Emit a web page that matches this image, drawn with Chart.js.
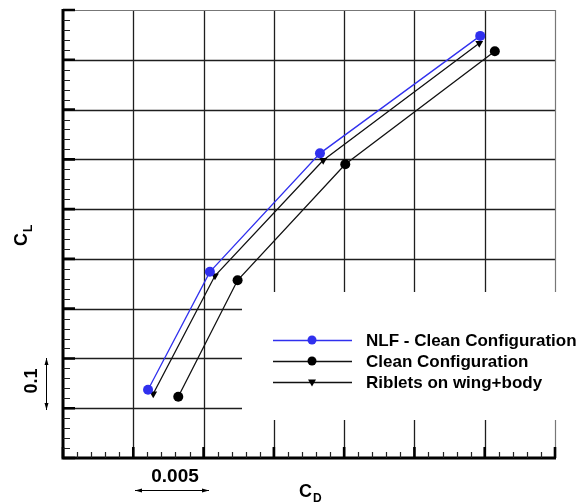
<!DOCTYPE html>
<html>
<head>
<meta charset="utf-8">
<script src="https://cdn.jsdelivr.net/npm/chart.js@4.4.1/dist/chart.umd.min.js"></script>
<style>
  html, body { margin: 0; padding: 0; background: #fff; }
  #wrap { width: 582px; height: 504px; }
</style>
</head>
<body>
<div id="wrap"><canvas id="c" width="582" height="504"></canvas></div>
<script>
// ---- data ----
const seriesNames = ["NLF - Clean Configuration", "Clean Configuration", "Riblets on wing+body"];
const nlfCD = [0.01605, 0.02045, 0.02828, 0.03968];
const nlfCL = [0.137, 0.374, 0.612, 0.848];
const cleanCD = [0.01820, 0.02242, 0.03008, 0.04072];
const cleanCL = [0.123, 0.357, 0.590, 0.817];
const ribCD = [0.01642, 0.02081, 0.02851, 0.03961];
const ribCL = [0.129, 0.366, 0.598, 0.833];
// axis ranges / steps (no tick labels in the reference)
const xMin = 0.010, xMax = 0.045, xStep = 0.005, xMinor = 0.001;
const yMin = 0.0, yMax = 0.9, yStep = 0.1, yMinor = 0.02;
const xScaleLabel = "0.005";
const yScaleLabel = "0.1";

const pts = (xs, ys) => xs.map((x, i) => ({ x: x, y: ys[i] }));
const BLUE = '#3030ee';
const FONT = '"Liberation Sans", Arial, Helvetica, sans-serif';

const overlay = {
  id: 'overlay',
  beforeDatasetsDraw(chart) {
    const ctx = chart.ctx, xs = chart.scales.x, ys = chart.scales.y, a = chart.chartArea;
    ctx.save();
    ctx.strokeStyle = '#1e1e1e';
    ctx.lineWidth = 1.3;
    ctx.beginPath();
    for (let v = xMin + xStep; v < xMax - 1e-9; v += xStep) {
      const p = Math.round(xs.getPixelForValue(v)) + 0.5;
      ctx.moveTo(p, a.top); ctx.lineTo(p, a.bottom);
    }
    for (let v = yMin + yStep; v < yMax - 1e-9; v += yStep) {
      const p = Math.round(ys.getPixelForValue(v)) + 0.5;
      ctx.moveTo(a.left, p); ctx.lineTo(a.right, p);
    }
    ctx.stroke();
    // blank box behind the legend
    ctx.fillStyle = '#fff';
    ctx.fillRect(242, 292, a.right - 242 + 3, 420 - 292);
    ctx.restore();
  },
  afterDatasetsDraw(chart) {
    const ctx = chart.ctx, xs = chart.scales.x, ys = chart.scales.y, a = chart.chartArea;
    ctx.save();
    // thin top/right frame
    ctx.strokeStyle = '#777';
    ctx.lineWidth = 1.2;
    ctx.beginPath();
    ctx.moveTo(a.left, a.top + 0.5); ctx.lineTo(a.right + 0.5, a.top + 0.5);
    ctx.lineTo(a.right + 0.5, 292);
    ctx.moveTo(a.right + 0.5, 420); ctx.lineTo(a.right + 0.5, a.bottom);
    ctx.stroke();
    // thick left & bottom axes
    ctx.strokeStyle = '#000';
    ctx.lineWidth = 3;
    ctx.beginPath();
    ctx.moveTo(a.left, a.top - 1); ctx.lineTo(a.left, a.bottom + 1.5);
    ctx.moveTo(a.left - 1.5, a.bottom); ctx.lineTo(a.right + 1, a.bottom);
    ctx.stroke();
    // major ticks
    ctx.lineWidth = 2.6;
    ctx.beginPath();
    for (let v = yMin; v <= yMax + 1e-9; v += yStep) {
      const p = ys.getPixelForValue(v);
      ctx.moveTo(a.left, p); ctx.lineTo(a.left + 12, p);
    }
    for (let v = xMin; v <= xMax + 1e-9; v += xStep) {
      const p = xs.getPixelForValue(v);
      ctx.moveTo(p, a.bottom); ctx.lineTo(p, a.bottom - 11);
    }
    ctx.stroke();
    // minor ticks
    ctx.lineWidth = 1.2;
    ctx.strokeStyle = '#222';
    ctx.beginPath();
    const ny = Math.round((yMax - yMin) / yMinor);
    for (let i = 0; i <= ny; i++) {
      if (i % Math.round(yStep / yMinor) === 0) continue;
      const p = Math.round(ys.getPixelForValue(yMin + i * yMinor)) + 0.5;
      ctx.moveTo(a.left, p); ctx.lineTo(a.left + 7, p);
    }
    const nx = Math.round((xMax - xMin) / xMinor);
    for (let i = 0; i <= nx; i++) {
      if (i % Math.round(xStep / xMinor) === 0) continue;
      const p = Math.round(xs.getPixelForValue(xMin + i * xMinor)) + 0.5;
      ctx.moveTo(p, a.bottom); ctx.lineTo(p, a.bottom - 6);
    }
    ctx.stroke();
    ctx.restore();
  },
  afterDraw(chart) {
    const ctx = chart.ctx;
    ctx.save();
    // legend
    const rows = [340, 361, 382];
    const ds = chart.data.datasets;
    rows.forEach((ry, i) => {
      const d = ds[i];
      ctx.strokeStyle = d.borderColor;
      ctx.lineWidth = 1.3;
      ctx.beginPath(); ctx.moveTo(273, ry + 0.5); ctx.lineTo(352, ry + 0.5); ctx.stroke();
      ctx.fillStyle = d.pointBackgroundColor;
      ctx.beginPath();
      if (d.pointStyle === 'triangle') {
        ctx.moveTo(312 - 4, ry - 2.5); ctx.lineTo(312 + 4, ry - 2.5); ctx.lineTo(312, ry + 4.5);
        ctx.closePath();
      } else {
        ctx.arc(312, ry, 4.5, 0, Math.PI * 2);
      }
      ctx.fill();
      ctx.fillStyle = '#000';
      ctx.font = 'bold 17px ' + FONT;
      ctx.textBaseline = 'middle';
      ctx.textAlign = 'left';
      ctx.fillText(d.label, 366, ry + 1);
    });
    // axis titles
    ctx.fillStyle = '#000';
    ctx.font = 'bold 18px ' + FONT;
    ctx.textBaseline = 'alphabetic';
    // C_D
    ctx.textAlign = 'left';
    ctx.fillText('C', 299, 497);
    ctx.font = 'bold 12px ' + FONT;
    ctx.fillText('D', 313, 502);
    // scale label 0.005 + arrow
    ctx.font = 'bold 19px ' + FONT;
    ctx.textAlign = 'center';
    ctx.fillText(xScaleLabel, 175, 482);
    const arrowH = (x1, x2, y) => {
      ctx.strokeStyle = '#000'; ctx.lineWidth = 1;
      ctx.beginPath(); ctx.moveTo(x1, y); ctx.lineTo(x2, y); ctx.stroke();
      ctx.beginPath();
      ctx.moveTo(x1, y); ctx.lineTo(x1 + 7, y - 2); ctx.lineTo(x1 + 7, y + 2); ctx.closePath();
      ctx.moveTo(x2, y); ctx.lineTo(x2 - 7, y - 2); ctx.lineTo(x2 - 7, y + 2); ctx.closePath();
      ctx.fill();
    };
    arrowH(135, 209, 490.5);
    // rotated labels
    ctx.save();
    ctx.translate(21, 239);
    ctx.rotate(-Math.PI / 2);
    ctx.textAlign = 'left';
    ctx.font = 'bold 18px ' + FONT;
    ctx.fillText('C', -7, 6);
    ctx.font = 'bold 12px ' + FONT;
    ctx.fillText('L', 7, 11);
    ctx.restore();
    ctx.save();
    ctx.translate(37, 381);
    ctx.rotate(-Math.PI / 2);
    ctx.textAlign = 'center';
    ctx.font = 'bold 18px ' + FONT;
    ctx.fillText(yScaleLabel, 0, 0);
    ctx.restore();
    // vertical arrow
    ctx.strokeStyle = '#000'; ctx.lineWidth = 1;
    const ax = 46.5, y1 = 358, y2 = 410;
    ctx.beginPath(); ctx.moveTo(ax, y1); ctx.lineTo(ax, y2); ctx.stroke();
    ctx.beginPath();
    ctx.moveTo(ax, y1); ctx.lineTo(ax - 2, y1 + 7); ctx.lineTo(ax + 2, y1 + 7); ctx.closePath();
    ctx.moveTo(ax, y2); ctx.lineTo(ax - 2, y2 - 7); ctx.lineTo(ax + 2, y2 - 7); ctx.closePath();
    ctx.fill();
    ctx.restore();
  }
};

new Chart(document.getElementById('c'), {
  type: 'scatter',
  data: {
    datasets: [
      { label: seriesNames[0], data: pts(nlfCD, nlfCL), showLine: true, borderColor: BLUE,
        backgroundColor: BLUE, pointBackgroundColor: BLUE, pointBorderWidth: 0,
        pointRadius: 5, pointStyle: 'circle', borderWidth: 1.3 },
      { label: seriesNames[1], data: pts(cleanCD, cleanCL), showLine: true, borderColor: '#111',
        backgroundColor: '#000', pointBackgroundColor: '#000', pointBorderWidth: 0,
        pointRadius: 5, pointStyle: 'circle', borderWidth: 1.3 },
      { label: seriesNames[2], data: pts(ribCD, ribCL), showLine: true, borderColor: '#111',
        backgroundColor: '#000', pointBackgroundColor: '#000', pointBorderWidth: 0,
        pointRadius: 4.5, pointStyle: 'triangle', pointRotation: 180, borderWidth: 1.3 }
    ]
  },
  options: {
    responsive: false,
    animation: false,
    events: [],
    layout: { padding: { left: 63, top: 10, right: 27, bottom: 46 } },
    plugins: { legend: { display: false }, tooltip: { enabled: false } },
    scales: {
      x: { type: 'linear', min: xMin, max: xMax, display: false },
      y: { type: 'linear', min: yMin, max: yMax, display: false }
    }
  },
  plugins: [overlay]
});
</script>
</body>
</html>
